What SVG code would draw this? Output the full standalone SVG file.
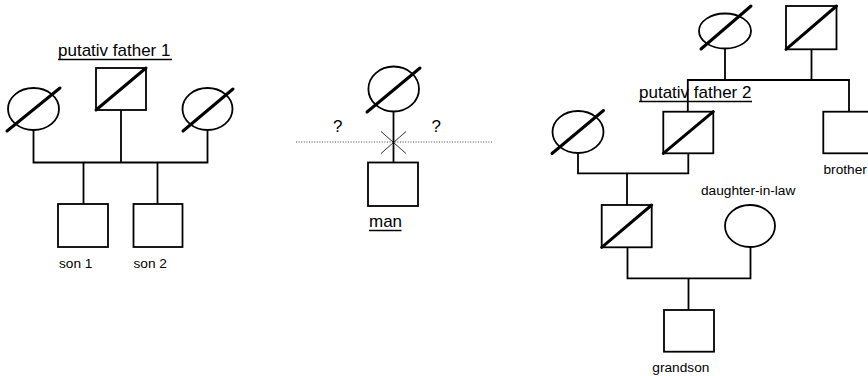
<svg xmlns="http://www.w3.org/2000/svg" width="868" height="376" viewBox="0 0 868 376">
  <style>
    .sym { fill: #fff; stroke: #000; stroke-width: 1.8; }
    .dead { stroke: #000; stroke-width: 3; stroke-linecap: round; }
    .con { fill: none; stroke: #000; stroke-width: 1.8; }
    .lbl { font-family: "Liberation Sans", Arial, sans-serif; font-size: 13.7px; fill: #000; }
    .big { font-family: "Liberation Sans", Arial, sans-serif; font-size: 17px; fill: #000; }
    .ul { stroke: #000; stroke-width: 1.3; }
  </style>
  <rect width="868" height="376" fill="#fff"/>

  <!-- connectors -->
  <g id="connectors">
    <!-- family 1 -->
    <path class="con" d="M33.5,130 V162.5 H207.5 V130"/>
    <path class="con" d="M121,110 V162.5"/>
    <path class="con" d="M83.5,162.5 V204"/>
    <path class="con" d="M157.5,162.5 V204"/>
    <!-- mother and man -->
    <path class="con" d="M393.5,111.5 V162.5"/>
    <path d="M296,142 H493" fill="none" stroke="#444" stroke-width="1" stroke-dasharray="1 1.6"/>
    <path d="M381,131.5 L406,153.5 M381,153.5 L406,131.5" fill="none" stroke="#000" stroke-width="0.8"/>
    <!-- family 2 -->
    <path class="con" d="M725,48.5 V80"/>
    <path class="con" d="M811.5,49.3 V80"/>
    <path class="con" d="M687.8,111.7 V80 H849 V111.7"/>
    <path class="con" d="M578,153 V173.3 H688.3 V153.3"/>
    <path class="con" d="M627,173.3 V205"/>
    <path class="con" d="M627.5,247.3 V278.3 H750.5 V247"/>
    <path class="con" d="M688.5,278.3 V310"/>
  </g>

  <!-- family 1 -->
  <g id="wife-1a">
    <ellipse class="sym" cx="33.5" cy="109" rx="25.5" ry="21"/>
    <line class="dead" x1="7" y1="131" x2="60" y2="88"/>
  </g>
  <g id="putative-father-1">
    <rect class="sym" x="96" y="68" width="50" height="42"/>
    <line class="dead" x1="96" y1="110" x2="146" y2="68"/>
    <text class="big" x="58" y="56">putativ father 1</text>
    <line class="ul" x1="58" y1="59.5" x2="172" y2="59.5"/>
  </g>
  <g id="wife-1b">
    <ellipse class="sym" cx="207.5" cy="109" rx="25" ry="21"/>
    <line class="dead" x1="183" y1="131" x2="233" y2="89"/>
  </g>
  <g id="son-1">
    <rect class="sym" x="58" y="204" width="50" height="43"/>
    <text class="lbl" x="59" y="267.5">son 1</text>
  </g>
  <g id="son-2">
    <rect class="sym" x="133.5" y="204" width="49" height="43"/>
    <text class="lbl" x="133.5" y="267.5">son 2</text>
  </g>

  <!-- mother and man -->
  <g id="mother">
    <ellipse class="sym" cx="393.7" cy="89" rx="25.3" ry="22.5"/>
    <line class="dead" x1="367" y1="112" x2="420" y2="68"/>
  </g>
  <g id="question-marks">
    <text class="big" x="333" y="132.3">?</text>
    <text class="big" x="431.5" y="132.3">?</text>
  </g>
  <g id="man">
    <rect class="sym" x="368" y="162.5" width="50" height="43.5"/>
    <text class="big" x="369" y="226.7">man</text>
    <line class="ul" x1="369" y1="230.5" x2="401.5" y2="230.5"/>
  </g>

  <!-- family 2 -->
  <g id="grandmother">
    <ellipse class="sym" cx="725" cy="31" rx="26" ry="17.5"/>
    <line class="dead" x1="701" y1="49" x2="751" y2="6"/>
  </g>
  <g id="grandfather">
    <rect class="sym" x="786" y="6" width="50.5" height="43.3"/>
    <line class="dead" x1="786" y1="49.3" x2="836.5" y2="6"/>
  </g>
  <g id="putative-father-2">
    <rect class="sym" x="663.3" y="111.7" width="50" height="41.6"/>
    <line class="dead" x1="663.3" y1="153.3" x2="713.3" y2="111.7"/>
    <text class="big" x="639" y="98.3">putativ father 2</text>
    <line class="ul" x1="639" y1="101.5" x2="752" y2="101.5"/>
  </g>
  <g id="brother">
    <rect class="sym" x="823.3" y="111.7" width="52" height="41.6"/>
    <text class="lbl" x="823.5" y="174">brother</text>
  </g>
  <g id="wife-2">
    <ellipse class="sym" cx="578" cy="132" rx="25.5" ry="21"/>
    <line class="dead" x1="552" y1="153.5" x2="603.5" y2="110.5"/>
  </g>
  <g id="son-dead">
    <rect class="sym" x="601.7" y="205" width="50" height="42.3"/>
    <line class="dead" x1="601.7" y1="247.3" x2="651.7" y2="205"/>
  </g>
  <g id="daughter-in-law">
    <ellipse class="sym" cx="750" cy="226" rx="25" ry="21"/>
    <text class="lbl" x="701" y="195">daughter-in-law</text>
  </g>
  <g id="grandson">
    <rect class="sym" x="664" y="310" width="50" height="41.7"/>
    <text class="lbl" x="652.3" y="371.5">grandson</text>
  </g>
</svg>
